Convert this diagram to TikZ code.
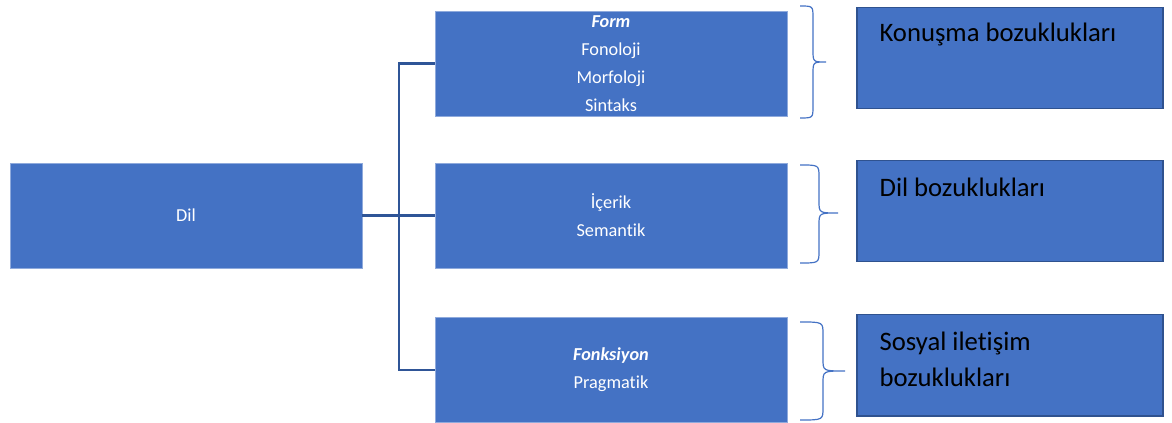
\documentclass[tikz,border=0pt]{standalone}
\usepackage{fontspec}
\setmainfont{Carlito}[Ligatures={NoCommon, NoRare, NoContextual}]
\usepackage{xcolor}
\usepackage{tikz}
\usetikzlibrary{calc}
\usetikzlibrary{positioning}
\definecolor{boxblue}{HTML}{4472C4}
\definecolor{edgeblue}{HTML}{2F528F}
\definecolor{lineblue}{HTML}{2F5597}
\definecolor{paleedge}{HTML}{8FAADC}
\tikzset{>=latex}
\tikzstyle{part} = [rectangle, draw=paleedge, line width=0.4pt, fill=boxblue, text=white, align=center, font=\fontsize{13.7}{21}\selectfont, minimum width=264pt, minimum height=78.5pt, inner sep=0pt]
\tikzstyle{disorder} = [rectangle, draw=edgeblue, line width=1pt, fill=boxblue, minimum width=229.5pt, minimum height=76pt, inner sep=0pt]
\tikzstyle{dtext} = [font=\fontsize{20}{27}\selectfont, text=black, align=left, inner sep=0pt]
\tikzstyle{tree} = [-, draw=lineblue, line width=1.6pt]
\tikzstyle{brace} = [-, draw=boxblue, line width=0.9pt]

\begin{document}
\begin{tikzpicture}[x=0.75pt, y=-0.75pt]
\useasboundingbox (0, 0) rectangle (1172, 423);
\node [part] (Dil) at (186, 215.5) {Dil};
\node [part] (Form) at (611, 63.5) {\textbf{\textit{Form}}\\Fonoloji\\Morfoloji\\Sintaks};
\node [part] (Icerik) at (611, 215.5) {İçerik\\Semantik};
\node [part] (Fonk) at (611, 370) {\textbf{\textit{Fonksiyon}}\\Pragmatik};
\node [disorder] (KB) at (1010, 58) {};
\node [disorder] (DB) at (1010, 211) {};
\node [disorder] (SB) at (1010, 365.5) {};
\node [dtext, anchor=north west] (KBt) at ($(KB.north west)+(23, 16)$) {Konuşma bozuklukları};
\node [dtext, anchor=north west] (DBt) at ($(DB.north west)+(23, 18)$) {Dil bozuklukları};
\node [dtext, anchor=north west] (SBt) at ($(SB.north west)+(23, 18)$) {Sosyal iletişim\\bozuklukları};
\coordinate (split) at (399, 215.5);
\draw [tree] (Dil.east) -- (Icerik.west);
\draw [tree] (Form.west) -| (split) |- (Fonk.west);
% braces
\draw [brace] (800, 6) .. controls (813, 6) .. (813, 18) -- (813, 50) .. controls (813, 62) .. (826, 62) .. controls (813, 62) .. (813, 74) -- (813, 106) .. controls (813, 118) .. (800, 118);
\draw [brace] (800, 165) .. controls (819, 165) .. (819, 177) -- (819, 201) .. controls (819, 213) .. (838, 213) .. controls (819, 213) .. (819, 225) -- (819, 251) .. controls (819, 263) .. (800, 263);
\draw [brace] (800, 322) .. controls (823, 322) .. (823, 334) -- (823, 359) .. controls (823, 371) .. (845, 371) .. controls (823, 371) .. (823, 383) -- (823, 408) .. controls (823, 420) .. (800, 420);
\end{tikzpicture}
\end{document}
